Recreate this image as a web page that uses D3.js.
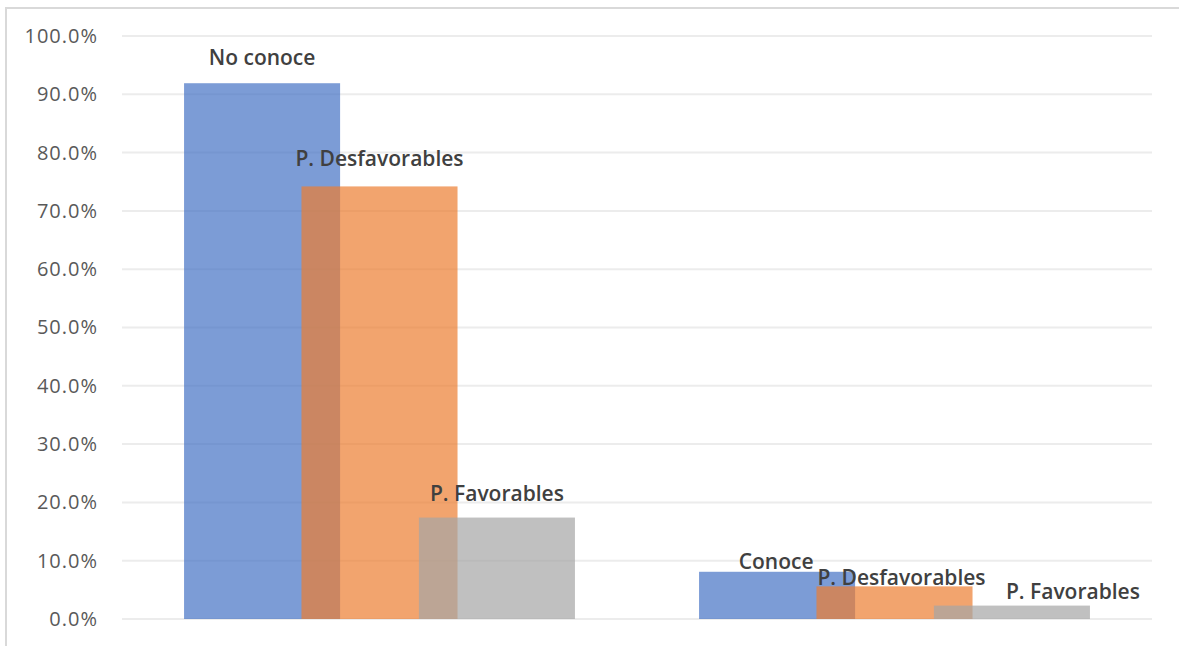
<!DOCTYPE html>
<html>
<head>
<meta charset="utf-8">
<script src="https://cdn.jsdelivr.net/npm/d3@7"></script>
<style>
  html, body { margin: 0; padding: 0; background: #fff; }
  svg { display: block; }
</style>
</head>
<body>
<svg id="chart" width="1179" height="646"></svg>
<script>
// Groups on the x axis (also the label of the first bar in each group)
const groups = ["No conoce", "Conoce"];
// Series names (labels of the second and third bars)
const seriesNames = ["Conocimiento", "P. Desfavorables", "P. Favorables"];
// Percent values per series, one per group
const conocimiento = [91.9, 8.1];
const desfavorables = [74.2, 5.6];
const favorables = [17.4, 2.3];
// Y axis tick values (percent)
const yTicks = [0, 10, 20, 30, 40, 50, 60, 70, 80, 90, 100];

const seriesValues = [conocimiento, desfavorables, favorables];
const colors = ["#4472C4", "#ED7D31", "#A5A5A5"];

const svg = d3.select("#chart");
const W = 1179, H = 646;
const plot = { left: 122, right: 1152, top: 36, bottom: 619 };

// Chart frame
svg.append("rect")
  .attr("x", 6).attr("y", 8)
  .attr("width", W + 20).attr("height", H + 20)
  .attr("fill", "#fff")
  .attr("stroke", "#d9d9d9").attr("stroke-width", 2);

const x = d3.scaleBand().domain(groups).range([plot.left, plot.right]).padding(0);
const y = d3.scaleLinear().domain([0, 100]).range([plot.bottom, plot.top]);

// Horizontal gridlines
svg.append("g").selectAll("line").data(yTicks).join("line")
  .attr("x1", plot.left).attr("x2", plot.right)
  .attr("y1", d => y(d)).attr("y2", d => y(d))
  .attr("stroke", "#ececec").attr("stroke-width", 2);

// Y axis labels
const yAxis = d3.axisLeft(y).tickValues(yTicks).tickFormat(d => d3.format(".1f")(d) + "%").tickSize(0).tickPadding(0);
const yG = svg.append("g").attr("transform", "translate(98,0)").call(yAxis);
yG.select(".domain").remove();
yG.selectAll("text")
  .attr("fill", "#595959")
  .style("font-family", "'Open Sans', sans-serif")
  .style("font-size", "20px")
  .style("letter-spacing", "1px");

// Overlapping bars: width and step relative to the group band
const bw = x.bandwidth();
const barW = bw * 0.303;
const step = bw * 0.228;

const bars = [];
groups.forEach((g, gi) => {
  seriesValues.forEach((vals, si) => {
    bars.push({
      group: g, gi, si, value: vals[gi],
      label: si === 0 ? g : seriesNames[si]
    });
  });
});

const barX = d => x(d.group) + bw / 2 + (d.si - 1) * step - barW / 2;

svg.append("g").selectAll("rect").data(bars).join("rect")
  .attr("x", barX)
  .attr("y", d => y(d.value))
  .attr("width", barW)
  .attr("height", d => y(0) - y(d.value))
  .attr("fill", d => colors[d.si])
  .attr("fill-opacity", 0.7);

// Label placement relative to each bar's top centre (px), per group and series
const labelGap = [[18, 20, 17], [3, 1, 7]];
const labelShift = [[0, 0, 0], [-1, 7, 61]];

svg.append("g").selectAll("text").data(bars).join("text")
  .attr("x", d => barX(d) + barW / 2 + labelShift[d.gi][d.si])
  .attr("y", d => y(d.value) - labelGap[d.gi][d.si])
  .attr("text-anchor", "middle")
  .attr("fill", "#404040")
  .style("font-family", "'Open Sans', sans-serif")
  .style("font-weight", 600)
  .style("font-size", "21px")
  .text(d => d.label);
</script>
</body>
</html>
